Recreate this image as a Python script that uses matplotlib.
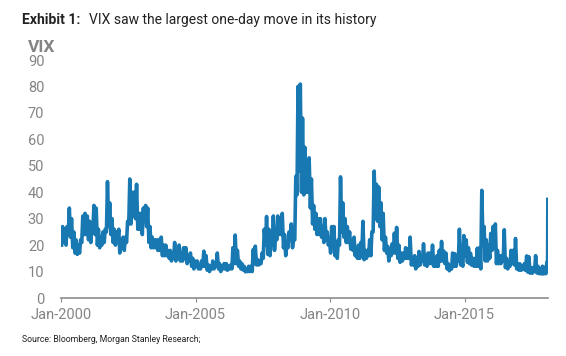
import numpy as np
import pandas as pd
import matplotlib
matplotlib.use('Agg')
import matplotlib.pyplot as plt
import matplotlib.dates as mdates

# monthly low / high of VIX, Jan-2000 .. Jan-2018
vix_low = [
    20, 21, 20, 24, 23, 19, 17, 16.5, 17, 21, 24, 24,        # 2000
    22, 21, 26, 24, 20, 19, 20, 21, 25, 27, 24, 21,          # 2001
    20, 22, 17, 19, 18, 21, 28, 28, 31, 30, 26, 26,          # 2002
    24, 29, 27, 21, 19, 19, 19, 18, 18, 16, 16, 16,          # 2003
    15, 14, 15, 14, 15, 14, 14, 15, 13, 14, 12, 11,          # 2004
    12, 11, 11, 12, 12, 10.5, 10, 11, 11, 12, 11, 10,        # 2005
    11, 11, 10.5, 11, 11, 13, 13, 12, 11, 10.6, 9.9, 10,     # 2006
    10, 10, 13, 12.5, 12.5, 13, 15, 20, 16.5, 16, 20, 18,    # 2007
    22, 24, 24, 19, 16, 19, 22, 19, 22, 39, 48, 40,          # 2008
    39, 40, 40, 34, 28, 26, 24, 24, 23, 21, 22, 20,          # 2009
    17, 19, 16, 15, 20, 25, 23, 21, 21, 18.5, 18, 16,        # 2010
    15, 15, 17, 14.5, 15, 16, 16, 25, 30, 29, 27, 22,        # 2011
    18, 17, 14, 16, 17, 17, 15, 13.5, 14, 15, 15, 15,        # 2012
    12.5, 12.5, 11, 12, 12.5, 14, 12.5, 12, 13, 13, 12, 12,  # 2013
    12, 14, 14, 13, 11, 10.3, 11, 12, 12, 14, 12.5, 12,      # 2014
    16, 13.5, 13, 12.4, 12, 12, 12, 11, 20, 14, 14, 15,      # 2015
    18, 19, 13, 13, 13, 14, 11.5, 11, 12, 13, 12.5, 11,      # 2016
    10.5, 10.5, 11, 10.4, 9.8, 9.4, 9.4, 10, 9.5, 9.2, 9.1, 9.1,  # 2017
    9.2,                                                      # 2018
]
vix_high = [
    27, 26, 27, 34, 30, 25, 22, 20, 22, 31, 32, 31,
    29, 28, 35, 34, 26, 23, 25, 26, 44, 36, 30, 26,
    25, 26, 22, 23, 23, 29, 45, 40, 40, 43, 32, 32,
    34, 35, 34, 27, 23, 22, 22, 22, 23, 20, 20, 18,
    18, 17, 21, 17, 20, 17, 19, 19, 15, 17, 15, 14,
    14, 12.5, 14, 17.7, 16, 12.5, 12, 14, 13, 17, 13, 12,
    13, 13, 12, 12.5, 19, 23.8, 18, 14, 13, 12, 11, 12,
    12, 18.3, 19.6, 14.5, 14, 17, 26, 30.8, 26, 22, 31, 24,
    31, 28, 32, 24, 20, 25, 28, 22, 46, 80, 80.9, 68,
    57, 52, 53, 45, 35, 32, 30, 30, 27, 30, 25, 22,
    27, 27, 19, 22, 45.8, 36, 30, 27, 25, 22, 23, 19,
    20, 21, 29, 18, 18, 22, 25, 48, 43, 42, 36, 32,
    23, 19.5, 18, 20.5, 24.5, 26.7, 20, 17, 17, 19, 18.6, 23,
    14.5, 16, 14.4, 17.6, 14.5, 20.5, 16, 17, 17, 20, 13.5, 16,
    18, 21.4, 17.8, 17, 13, 12, 17, 16.7, 16, 26, 14, 23.6,
    22, 19, 16.9, 15, 15, 18.8, 19, 40.7, 27, 22, 20, 24.4,
    27, 28, 18, 16, 16, 25.8, 15, 13.6, 18, 18, 22.5, 13,
    12.9, 12, 13, 15.9, 15.6, 11.5, 11.5, 16, 12, 11, 12, 11.6,
    13.5,
]
# last days: the record one-day move
feb2018_dates = ['2018-02-01', '2018-02-02', '2018-02-05']
feb2018_vix = [13.5, 17.3, 37.3]

# build the line: low then high inside each month
months = pd.date_range('2000-01-01', periods=len(vix_low), freq='MS')
dates, vals = [], []
for m, lo, hi in zip(months, vix_low, vix_high):
    dates += [m + pd.Timedelta(days=8), m + pd.Timedelta(days=22)]
    vals += [lo, hi]
dates += list(pd.to_datetime(feb2018_dates))
vals += feb2018_vix

plt.rcParams['font.family'] = ['Roboto', 'DejaVu Sans']

fig = plt.figure(figsize=(5.66, 3.56), dpi=100)
ax = fig.add_axes([61 / 566, 1 - 298 / 356, 487 / 566, 238 / 356])
ax.plot(dates, vals, color='#1878b2', lw=2.6, solid_joinstyle='round')

ax.set_ylim(0, 90)
ax.set_yticks(np.arange(0, 91, 10))
ax.set_xlim(pd.Timestamp('2000-01-01'), pd.Timestamp('2018-02-07'))
ax.set_xticks(pd.to_datetime(['2000-01-01', '2005-01-01', '2010-01-01', '2015-01-01']))
ax.xaxis.set_major_formatter(mdates.DateFormatter('%b-%Y'))

for s in ['top', 'right', 'left']:
    ax.spines[s].set_visible(False)
ax.spines['bottom'].set_color('#8c8c8c')
ax.spines['bottom'].set_linewidth(1.2)
ax.tick_params(axis='y', length=0, pad=12, labelsize=10.5, labelcolor='#858585')
ax.tick_params(axis='x', length=3, color='#8c8c8c', pad=4, labelsize=10.5, labelcolor='#858585')

fig.text(22 / 566, 1 - 20 / 356, 'Exhibit 1:', fontsize=10, fontweight='bold',
         color='#222222', va='center')
fig.text(89 / 566, 1 - 20 / 356, 'VIX saw the largest one-day move in its history',
         fontsize=10, color='#222222', va='center')
fig.text(28 / 566, 1 - 47 / 356, 'VIX', fontsize=12.5, fontweight='bold', color='#858585', va='center')
fig.text(22 / 566, 1 - 339 / 356, 'Source: Bloomberg, Morgan Stanley Research;',
         fontsize=6.3, color='#222222', va='center')

fig.savefig('out.png', dpi=100)
